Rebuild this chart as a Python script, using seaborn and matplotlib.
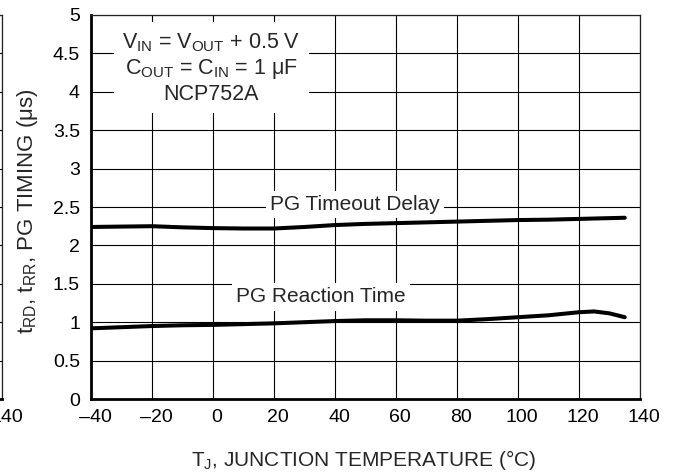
import matplotlib
matplotlib.use("Agg")
import matplotlib.pyplot as plt
import matplotlib.transforms as mtransforms
import seaborn as sns
import pandas as pd

# ---- data ----
temp_timeout = [-40, -30, -20, -10, 0, 10, 20, 30, 40, 50, 60, 70, 80, 90, 100, 110, 120, 135]
timeout_delay = [2.24, 2.245, 2.25, 2.235, 2.225, 2.22, 2.22, 2.24, 2.265, 2.28, 2.29, 2.30, 2.31, 2.32, 2.33, 2.335, 2.345, 2.36]

temp_reaction = [-40, -30, -20, -10, 0, 10, 20, 30, 40, 50, 60, 70, 80, 90, 100, 110, 120, 125, 130, 135]
reaction_time = [0.92, 0.935, 0.95, 0.96, 0.965, 0.975, 0.985, 1.0, 1.015, 1.025, 1.025, 1.02, 1.02, 1.04, 1.065, 1.09, 1.13, 1.14, 1.115, 1.065]

x_ticks = [-40, -20, 0, 20, 40, 60, 80, 100, 120, 140]
x_tick_labels = ["\u201340", "\u201320", "0", "20", "40", "60", "80", "100", "120", "140"]
y_ticks = [0, 0.5, 1, 1.5, 2, 2.5, 3, 3.5, 4, 4.5, 5]
y_tick_labels = ["0", "0.5", "1", "1.5", "2", "2.5", "3", "3.5", "4", "4.5", "5"]

series_labels = ["PG Timeout Delay", "PG Reaction Time"]
info_text = ("V$_{\\mathrm{IN}}$ = V$_{\\mathrm{OUT}}$ + 0.5 V\n"
             "C$_{\\mathrm{OUT}}$ = C$_{\\mathrm{IN}}$ = 1 \u03bcF\n"
             "NCP752A")
x_label = "T$_{\\mathrm{J}}$, JUNCTION TEMPERATURE (\u00b0C)"
y_label = "t$_{\\mathrm{RD}}$, t$_{\\mathrm{RR}}$, PG TIMING (\u03bcs)"

# ---- style ----
sns.set_style("white")
plt.rcParams["font.family"] = ["Liberation Sans", "DejaVu Sans"]
plt.rcParams["mathtext.fontset"] = "custom"
plt.rcParams["mathtext.rm"] = "Liberation Sans"
plt.rcParams["mathtext.it"] = "Liberation Sans:italic"
plt.rcParams["mathtext.bf"] = "Liberation Sans:bold"

W, H = 679, 476
fig = plt.figure(figsize=(W / 100, H / 100), dpi=100)

ax_left, ax_right, ax_top, ax_bottom = 91, 640, 15, 399
pos = [ax_left / W, 1 - ax_bottom / H, (ax_right - ax_left) / W, (ax_bottom - ax_top) / H]


def style_axes(ax, xshift_px):
    ax.set_xlim(-40, 140)
    ax.set_ylim(0, 5)
    ax.set_xticks(x_ticks)
    ax.set_xticklabels(x_tick_labels)
    ax.set_yticks(y_ticks)
    ax.set_yticklabels(y_tick_labels)
    ax.grid(True, color="black", linewidth=0.8)
    ax.set_axisbelow(True)
    ax.tick_params(axis="both", length=0, labelsize=14, colors="black")
    ax.tick_params(axis="x", pad=7)
    ax.tick_params(axis="y", pad=8)
    for s in ["left", "bottom"]:
        ax.spines[s].set_linewidth(2.0)
        ax.spines[s].set_color("black")
    for s in ["top", "right"]:
        ax.spines[s].set_linewidth(0.9)
        ax.spines[s].set_color("#222222")
    shift = mtransforms.ScaledTranslation(xshift_px / 100, 0, fig.dpi_scale_trans)
    for lab in ax.get_xticklabels():
        lab.set_transform(lab.get_transform() + shift)


# neighbouring (cropped) chart at the far left edge
ax0 = fig.add_axes([2 / W - 0.8, pos[1], 0.8, pos[3]])
style_axes(ax0, 5)
ax0.set_yticklabels([])

ax = fig.add_axes(pos)
style_axes(ax, 4)

df_t = pd.DataFrame({"T": temp_timeout, "v": timeout_delay})
df_r = pd.DataFrame({"T": temp_reaction, "v": reaction_time})
sns.lineplot(data=df_t, x="T", y="v", ax=ax, color="black", linewidth=2.9, sort=True, zorder=3)
sns.lineplot(data=df_r, x="T", y="v", ax=ax, color="black", linewidth=2.9, sort=True, zorder=3)

box = dict(facecolor="white", edgecolor="none", pad=3)
ax.text(46.5, 2.535, series_labels[0], fontsize=15, ha="center", va="center", bbox=box, zorder=4)
ax.text(35.5, 1.33, series_labels[1], fontsize=15, ha="center", va="center", bbox=box, zorder=4)
ax.text(-0.5, 4.31, info_text, fontsize=15.5, ha="center", va="center", linespacing=1.17,
        bbox=dict(facecolor="white", edgecolor="none", pad=6), zorder=4)

ax.set_xlabel(x_label, fontsize=15)
ax.set_ylabel(y_label, fontsize=16)
ax.xaxis.set_label_coords(0.497, -0.128)
ax.yaxis.set_label_coords(-0.093, 0.49)

fig.savefig("out.png", dpi=100)
